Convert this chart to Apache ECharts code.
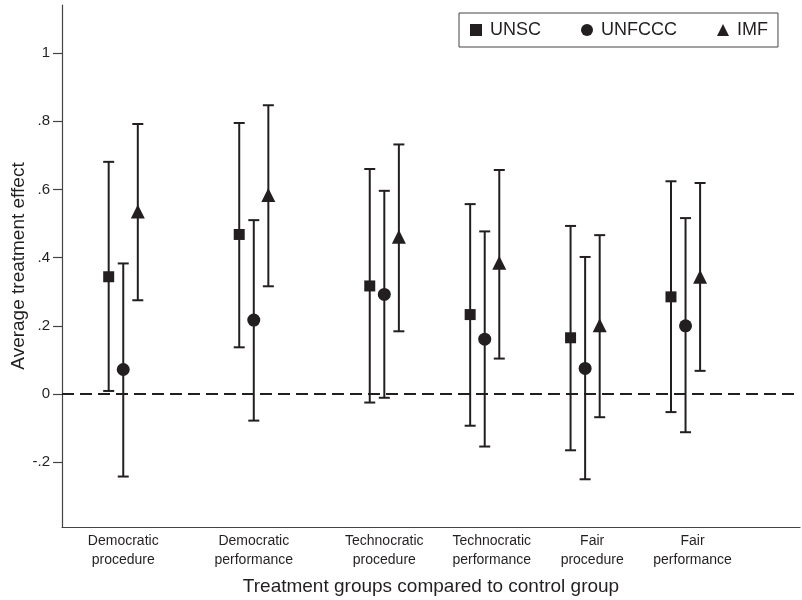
<!DOCTYPE html>
<html>
<head>
<meta charset="utf-8">
<script src="https://cdn.jsdelivr.net/npm/echarts@6/dist/echarts.min.js"></script>
<style>
  html, body { margin: 0; padding: 0; background: #fff; }
  #chart { width: 802px; height: 600px; }
</style>
</head>
<body>
<div id="chart"></div>
<script>
// Treatment groups and where they sit on the horizontal scale
var categories = ['Democratic\nprocedure', 'Democratic\nperformance', 'Technocratic\nprocedure',
                  'Technocratic\nperformance', 'Fair\nprocedure', 'Fair\nperformance'];
var groupPos = [1, 2.3, 3.6, 4.6, 5.6, 6.6];
var labelPos = [1, 2.3, 3.6, 4.67, 5.67, 6.67];
var seriesOffset = { UNSC: -0.145, UNFCCC: 0, IMF: 0.145 };

// Point estimates and 95% confidence bounds per institution
var unscEst  = [0.344, 0.468, 0.317, 0.233, 0.165, 0.285];
var unscLow  = [0.009, 0.137, -0.025, -0.093, -0.165, -0.053];
var unscHigh = [0.681, 0.795, 0.660, 0.557, 0.493, 0.624];

var unfcccEst  = [0.072, 0.217, 0.292, 0.161, 0.075, 0.200];
var unfcccLow  = [-0.242, -0.078, -0.011, -0.154, -0.250, -0.112];
var unfcccHigh = [0.383, 0.510, 0.596, 0.477, 0.402, 0.516];

var imfEst  = [0.535, 0.584, 0.461, 0.385, 0.202, 0.344];
var imfLow  = [0.275, 0.316, 0.184, 0.104, -0.068, 0.068];
var imfHigh = [0.792, 0.847, 0.732, 0.657, 0.466, 0.619];

var yTicks = [-0.2, 0, 0.2, 0.4, 0.6, 0.8, 1];

var INK = '#231f20';
var FONT = '"Liberation Sans", Arial, Helvetica, sans-serif';

function pointData(name, est) {
  return est.map(function (v, i) { return [groupPos[i] + seriesOffset[name], v]; });
}
function barData(name, low, high) {
  return low.map(function (v, i) { return [groupPos[i] + seriesOffset[name], v, high[i]]; });
}

// Vertical interval with short caps at both ends
function errorBars(name, low, high) {
  return {
    name: name + ' CI',
    type: 'custom',
    silent: true,
    z: 2,
    data: barData(name, low, high),
    encode: { x: 0, y: [1, 2] },
    renderItem: function (params, api) {
      var x = api.value(0);
      var lo = api.coord([x, api.value(1)]);
      var hi = api.coord([x, api.value(2)]);
      var cap = 5.5;
      var style = { stroke: INK, lineWidth: 2, fill: null };
      return {
        type: 'group',
        children: [
          { type: 'line', shape: { x1: lo[0], y1: lo[1], x2: hi[0], y2: hi[1] }, style: style },
          { type: 'line', shape: { x1: lo[0] - cap, y1: lo[1], x2: lo[0] + cap, y2: lo[1] }, style: style },
          { type: 'line', shape: { x1: hi[0] - cap, y1: hi[1], x2: hi[0] + cap, y2: hi[1] }, style: style }
        ]
      };
    }
  };
}

function markers(name, est, symbol, size) {
  return {
    name: name,
    type: 'scatter',
    z: 5,
    symbol: symbol,
    symbolSize: size,
    itemStyle: { color: INK, opacity: 1 },
    data: pointData(name, est)
  };
}

var chart = echarts.init(document.getElementById('chart'), null, { renderer: 'canvas' });

chart.setOption({
  animation: false,
  backgroundColor: '#ffffff',
  textStyle: { fontFamily: FONT, color: INK },
  grid: { left: 62, right: 2, top: 5, bottom: 73, containLabel: false, outerBoundsMode: 'none' },
  legend: {
    left: 459,
    top: 13,
    orient: 'horizontal',
    data: [
      { name: 'UNSC', icon: 'rect' },
      { name: 'UNFCCC', icon: 'circle' },
      { name: 'IMF', icon: 'triangle' }
    ],
    itemWidth: 12,
    itemHeight: 12,
    itemGap: 40,
    padding: [8, 10, 8, 11],
    borderColor: '#444',
    borderWidth: 1,
    borderRadius: 0,
    textStyle: { fontSize: 18, color: INK, fontFamily: FONT, padding: [0, 0, 0, 3] },
    selectedMode: false
  },
  xAxis: {
    type: 'value',
    min: 0.39,
    max: 7.74,
    name: 'Treatment groups compared to control group',
    nameLocation: 'middle',
    nameGap: 50,
    nameMoveOverlap: false,
    nameTextStyle: { fontSize: 19, color: INK, fontFamily: FONT },
    axisLine: { show: true, onZero: false, lineStyle: { color: '#444', width: 1.2 } },
    axisTick: { show: false },
    splitLine: { show: false },
    axisLabel: {
      customValues: labelPos,
      fontSize: 14,
      lineHeight: 19,
      margin: 5,
      color: INK,
      fontFamily: FONT,
      formatter: function (v) {
        for (var i = 0; i < labelPos.length; i++) {
          if (Math.abs(labelPos[i] - v) < 1e-6) return categories[i];
        }
        return '';
      }
    }
  },
  yAxis: {
    type: 'value',
    min: -0.39,
    max: 1.141,
    name: 'Average treatment effect',
    nameLocation: 'middle',
    nameGap: 34,
    nameMoveOverlap: false,
    nameTextStyle: { fontSize: 19, color: INK, fontFamily: FONT },
    axisLine: { show: true, onZero: false, lineStyle: { color: '#444', width: 1.2 } },
    axisTick: { show: true, customValues: yTicks, length: 9, lineStyle: { color: '#444', width: 1.2 } },
    splitLine: { show: false },
    axisLabel: {
      customValues: yTicks,
      fontSize: 15,
      margin: 12,
      color: INK,
      fontFamily: FONT,
      formatter: function (v) {
        if (Math.abs(v) < 1e-9) return '0';
        if (Math.abs(v - 1) < 1e-9) return '1';
        return v.toFixed(1).replace('0.', '.');
      }
    }
  },
  series: [
    errorBars('UNSC', unscLow, unscHigh),
    errorBars('UNFCCC', unfcccLow, unfcccHigh),
    errorBars('IMF', imfLow, imfHigh),
    {
      name: 'zero',
      type: 'line',
      data: [],
      silent: true,
      markLine: {
        silent: true,
        symbol: ['none', 'none'],
        label: { show: false },
        lineStyle: { color: INK, width: 2, type: [12, 6] },
        data: [{ yAxis: 0 }]
      }
    },
    markers('UNSC', unscEst, 'rect', 11),
    markers('UNFCCC', unfcccEst, 'circle', 13),
    markers('IMF', imfEst, 'triangle', 14)
  ]
});
</script>
</body>
</html>
